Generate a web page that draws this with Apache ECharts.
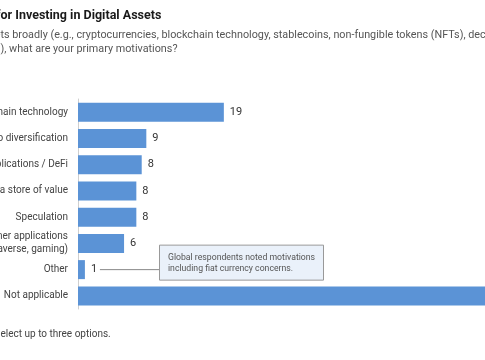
<!DOCTYPE html>
<html>
<head>
<meta charset="utf-8">
<script src="https://cdn.jsdelivr.net/npm/echarts@6/dist/echarts.min.js"></script>
<style>
html,body{margin:0;padding:0;background:#fff;overflow:hidden;}
#chart{width:485px;height:360px;}
</style>
</head>
<body>
<div id="chart"></div>
<script>
const categories = [
  'Belief in blockchain technology',
  'Portfolio diversification',
  'Decentralized applications / DeFi',
  'Digital assets as a store of value',
  'Speculation',
  'Consumer applications\n(e.g., metaverse, gaming)',
  'Other',
  'Not applicable'
];
const values = [19, 8.9, 8.3, 7.6, 7.6, 6, 0.9, 60];

const titleText = 'Motivations for Investing in Digital Assets';
const titlePrefix = 'Motivations f';
const subLine1 = 'Thinking about digital assets broadly (e.g., cryptocurrencies, blockchain technology, stablecoins, non-fungible tokens (NFTs), decentralized finance (DeFi), decentralized autonomous organizations';
const subPrefix1 = 'Thinking about digital asse';
const subLine2 = '(DAOs)), what are your primary motivations?';
const subPrefix2 = '(DAOs)';
const noteText = 'Note: Respondents could select up to three options.';
const notePrefix = 'Note: Respondents could s';
const annotationLines = ['Global respondents noted motivations', 'including fiat currency concerns.'];

const FONT = 'Roboto, "Noto Sans", sans-serif';
const cv = document.createElement('canvas').getContext('2d');
function tw(s, font){ cv.font = font; return cv.measureText(s).width; }

const chart = echarts.init(document.getElementById('chart'));
const option = {
  animation: false,
  grid: { left: 78, right: -115, top: 99, bottom: 51, outerBoundsMode: 'none', containLabel: false },
  xAxis: { type: 'value', min: 0, max: 68, show: false },
  yAxis: {
    type: 'category', data: categories, inverse: true,
    axisLine: { show: true, lineStyle: { color: '#cfcfcf', width: 1 } },
    axisTick: { show: false },
    axisLabel: { margin: 10, color: '#444', fontSize: 10, fontFamily: FONT, lineHeight: 13, align: 'right' }
  },
  series: [{
    type: 'bar', data: values, barWidth: 19,
    itemStyle: { color: '#5b93d6' },
    label: { show: true, position: 'right', distance: 6, color: '#333', fontSize: 11, fontFamily: FONT,
      formatter: p => Math.round(p.value) }
  }]
};
chart.setOption(option);

// annotation positioned from the "Other" bar
const otherIdx = categories.indexOf('Other');
const pOther = chart.convertToPixel({ gridIndex: 0 }, [values[otherIdx], otherIdx]);
const ay = pOther[1];
const boxX = 159, boxW = 164, boxH = 35, boxY = ay - 25;

const fTitle = 'bold 12.5px ' + FONT;
const fSub = '10.8px ' + FONT;
const fNote = '10px ' + FONT;
const fAnn = '8.7px ' + FONT;
chart.setOption({
  graphic: [
    { type: 'text', x: -tw(titlePrefix, fTitle) + 0.5, y: 16,
      style: { text: titleText, font: fTitle, fill: '#1a1a1a', textVerticalAlign: 'middle' } },
    { type: 'text', x: -tw(subPrefix1, fSub) + 0.5, y: 35,
      style: { text: subLine1, font: fSub, fill: '#555', textVerticalAlign: 'middle' } },
    { type: 'text', x: -tw(subPrefix2, fSub) + 0.5, y: 49,
      style: { text: subLine2, font: fSub, fill: '#555', textVerticalAlign: 'middle' } },
    { type: 'text', x: -tw(notePrefix, fNote) + 0.5, y: 334,
      style: { text: noteText, font: fNote, fill: '#444', textVerticalAlign: 'middle' } },
    { type: 'line', shape: { x1: pOther[0] + 15, y1: ay, x2: boxX, y2: ay },
      style: { stroke: '#888', lineWidth: 1 } },
    { type: 'rect', shape: { x: boxX + 0.5, y: boxY + 0.5, width: boxW, height: boxH },
      style: { fill: '#eaf1fa', stroke: '#999', lineWidth: 1 } },
    { type: 'text', x: boxX + 9, y: boxY + 13,
      style: { text: annotationLines[0], font: fAnn, fill: '#555', textVerticalAlign: 'middle' } },
    { type: 'text', x: boxX + 9, y: boxY + 24,
      style: { text: annotationLines[1], font: fAnn, fill: '#555', textVerticalAlign: 'middle' } }
  ]
});
</script>
</body>
</html>
